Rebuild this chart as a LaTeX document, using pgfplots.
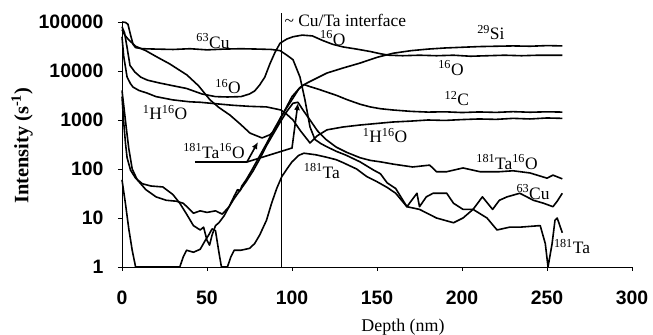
\documentclass[border=0pt]{standalone}
\usepackage{fontspec}
\setmainfont{Liberation Serif}
\newfontfamily\arial{Liberation Sans}
\usepackage{pgfplots}
\pgfplotsset{compat=1.18}
\usetikzlibrary{arrows.meta}
\newcommand{\iso}[2]{\textsuperscript{#1}#2}
\tikzset{annot/.style={font=\fontsize{17.5}{18}\selectfont, inner sep=0pt}}
\begin{document}
\begin{tikzpicture}
\begin{axis}[
  at={(0,0)}, anchor=south west, scale only axis,
  width=510bp, height=245bp,
  ymode=log, xmin=0, xmax=300, ymin=1, ymax=100000,
  axis x line=bottom, axis y line=left,
  axis line style={-, line width=0.8bp, black},
  xtick={0,50,100,150,200,250,300},
  xticklabels={0,50,100,150,200,250,300},
  ytick={1,10,100,1000,10000,100000},
  yticklabels={1,10,100,1000,10000,100000},
  yminorticks=false, xminorticks=false,
  tick align=outside, major tick length=4bp,
  tick style={line width=0.8bp, black},
  ticklabel style={font=\arial\bfseries\fontsize{19.5}{20}\selectfont},
  yticklabel style={xshift=-11bp},
  xticklabel style={yshift=-16bp},
  xlabel={Depth (nm)}, ylabel={\bfseries Intensity (s\textsuperscript{-1})},
  xlabel style={font=\fontsize{18}{18}\selectfont, at={(axis description cs:0.551,-0.245)}, anchor=center},
  ylabel style={font=\fontsize{20.5}{21}\selectfont, at={(axis description cs:-0.196,0.495)}, anchor=center},
  clip=false,
  cycle list={{black, solid, mark=none}},
  every axis plot/.append style={line width=1.6bp, line join=round},
]
% 63Cu
\addplot coordinates {(0,100000) (2,98000) (3.5,90000) (5,55000) (6.5,35000) (8,30000) (12,28500) (20,28000) (30,27500) (40,28500) (50,27000) (60,28000) (70,28500) (80,28000) (88,27500) (93,26000) (97,21000) (100.6,17000) (104.7,7500) (107.6,2600) (110.6,720) (113.5,400) (117,330) (120,290) (126,230) (132,190) (140,140) (148,95) (152,80) (156,52) (161,40) (167.6,17) (173.5,32) (175,17) (179,27) (183,32) (191,32) (195,20) (200.6,15) (206.5,15) (212,27) (218,15) (222,23) (226.5,27) (234,32) (242,23) (248,20) (253.5,17) (256,22) (259,32)};
% 16O
\addplot coordinates {(0,80000) (1.5,60000) (3,30000) (4.7,13000) (7.6,9500) (11,7500) (15,6500) (22,5700) (30,5000) (38,4400) (47,3400) (55,3000) (62,2950) (70,3000) (75,3400) (78,3900) (81,5200) (84,7500) (87,14000) (90,24000) (93,37000) (97,45000) (100.6,50000) (106,54000) (112,52000) (118,42000) (124,35000) (130,31000) (138,28000) (146,25000) (152,22500) (157,21000) (165,20500) (175,21000) (185,20500) (195,21000) (205,20000) (215,20500) (225,21000) (235,20500) (245,21000) (259,21000)};
% 1H16O
\addplot coordinates {(0,50000) (1,20000) (3,7500) (5,5500) (6.5,4700) (10,4000) (14.7,3550) (20,3000) (30,2570) (40,2350) (46,2300) (55,2150) (65,2000) (75,1900) (85,1850) (93.5,1600) (97,1300) (100.6,1000) (105,600) (110.6,340) (115,480) (120.6,630) (130,720) (140,790) (150,850) (159.4,910) (170,950) (180,1000) (190,980) (200,1020) (210,1050) (220,1030) (230,1080) (240,1050) (250,1100) (259,1080)};
% 12C
\addplot coordinates {(0,70000) (1.5,55000) (3.5,45000) (8,32000) (14,26000) (20.6,19300) (28,14000) (38.2,8300) (45,5000) (51.8,2570) (57,1800) (63.5,1260) (70,800) (75.3,540) (82.4,430) (87,500) (90,630) (93.5,1150) (97,1800) (100.6,2800) (104,4300) (107,5300) (110.6,4800) (116,4200) (120.6,3700) (126,3200) (132.4,2600) (140,2100) (146,1850) (152,1700) (159.4,1600) (170,1500) (180,1450) (190,1470) (200,1420) (210,1460) (220,1430) (230,1480) (240,1440) (250,1470) (259,1450)};
% 29Si
\addplot coordinates {(0,3000) (1,900) (2,350) (3,170) (5,95) (8,65) (12,50) (17,45) (24,43) (30,30) (34,20) (38,12) (42,7) (46,5.7) (48,6.5) (50,3.5) (51.5,2.8) (53,4.5) (55,7) (57,8) (60,11) (63,17) (66,28) (68,38) (69.5,36) (70.5,45) (73,60) (76,90) (80,160) (85,330) (90,700) (95,1400) (100,3000) (104.7,4600) (108,5500) (114,7000) (120.6,9100) (130,11500) (140,14500) (150,19000) (159.4,23000) (170,26000) (180,28000) (190,29500) (200,30500) (210,31500) (220,32000) (230,32500) (240,32000) (250,33000) (259,32500)};
% 181Ta16O
\addplot coordinates {(0,4000) (1,2000) (2.5,700) (4,260) (6,100) (9,60) (14,38) (20,27) (26,23) (32,22) (36,20) (39,16) (42,12.5) (46,14) (50,13) (55,14) (59,12) (63,17) (66,25) (69,35) (73,55) (77,90) (81,160) (85,300) (89,520) (93,900) (97,1500) (100.6,2200) (103.5,2300) (107,1500) (110.6,1000) (115,600) (120,400) (126,280) (132,220) (140,170) (146,150) (152,140) (160,125) (171,110) (181,120) (185,88) (191,88) (200.6,105) (210.6,88) (222,88) (230,92) (240,83) (250,65) (253.5,75) (259,63)};
% 181Ta
\addplot coordinates {(0,60) (2,20) (4,6) (6,2.2) (8,1) (34,1) (36,1.6) (38,2.2) (42,2) (46,2.3) (49,3.5) (51,4.5) (53,6) (55,5.5) (57,2) (58.5,1) (62,1) (64,1.6) (66,2.2) (70,2.2) (75,2.4) (78,3) (81,4.5) (85,9) (88,20) (91,40) (94,70) (97,100) (100,140) (104,190) (107,210) (114,195) (120,175) (126,155) (130,135) (138,100) (144,70) (150,55) (156,42) (161,32) (167.6,17) (175,15) (185,10) (195,8) (200.6,10) (206.5,15) (214.7,10) (220.6,5.7) (228,6.5) (234,6.5) (246,7) (249,3) (250.6,1) (253,3) (254.7,9) (256,10) (259,5)};
% interface line
\draw[line width=0.7bp] (axis cs:93.5,1) -- (axis cs:93.5,150000);
\node[annot, anchor=west] at (axis cs:95.5,110000) {\textasciitilde\ Cu/Ta interface};
% arrows
\draw[line width=2.6bp] (axis cs:42.9,139) -- (axis cs:73.5,139);
\draw[line width=1.6bp, -{Latex[length=7bp,width=6bp]}] (axis cs:73.5,139) -- (axis cs:80,356);
\draw[line width=1.6bp, -{Latex[length=7bp,width=6bp]}] (axis cs:73.5,139) -- (axis cs:100,268) -- (axis cs:103.5,2220);
% labels
\node[annot] at (axis cs:53.5,41000) {\iso{63}{Cu}};
\node[annot] at (axis cs:124,47000) {\iso{16}{O}};
\node[annot] at (axis cs:217,60000) {\iso{29}{Si}};
\node[annot] at (axis cs:193.5,11500) {\iso{16}{O}};
\node[annot] at (axis cs:197,2700) {\iso{12}{C}};
\node[annot] at (axis cs:154.7,490) {\iso{1}{H}\iso{16}{O}};
\node[annot] at (axis cs:226.5,139) {\iso{181}{Ta}\iso{16}{O}};
\node[annot] at (axis cs:241.8,34) {\iso{63}{Cu}};
\node[annot] at (axis cs:264.7,2.6) {\iso{181}{Ta}};
\node[annot] at (axis cs:117.6,91) {\iso{181}{Ta}};
\node[annot] at (axis cs:62.4,4900) {\iso{16}{O}};
\node[annot] at (axis cs:25.3,1400) {\iso{1}{H}\iso{16}{O}};
\node[annot] at (axis cs:54.1,234) {\iso{181}{Ta}\iso{16}{O}};
\end{axis}
\pgfresetboundingbox
\path[use as bounding box] (-122bp,-68bp) rectangle (531bp,267bp);
\end{tikzpicture}
\end{document}
